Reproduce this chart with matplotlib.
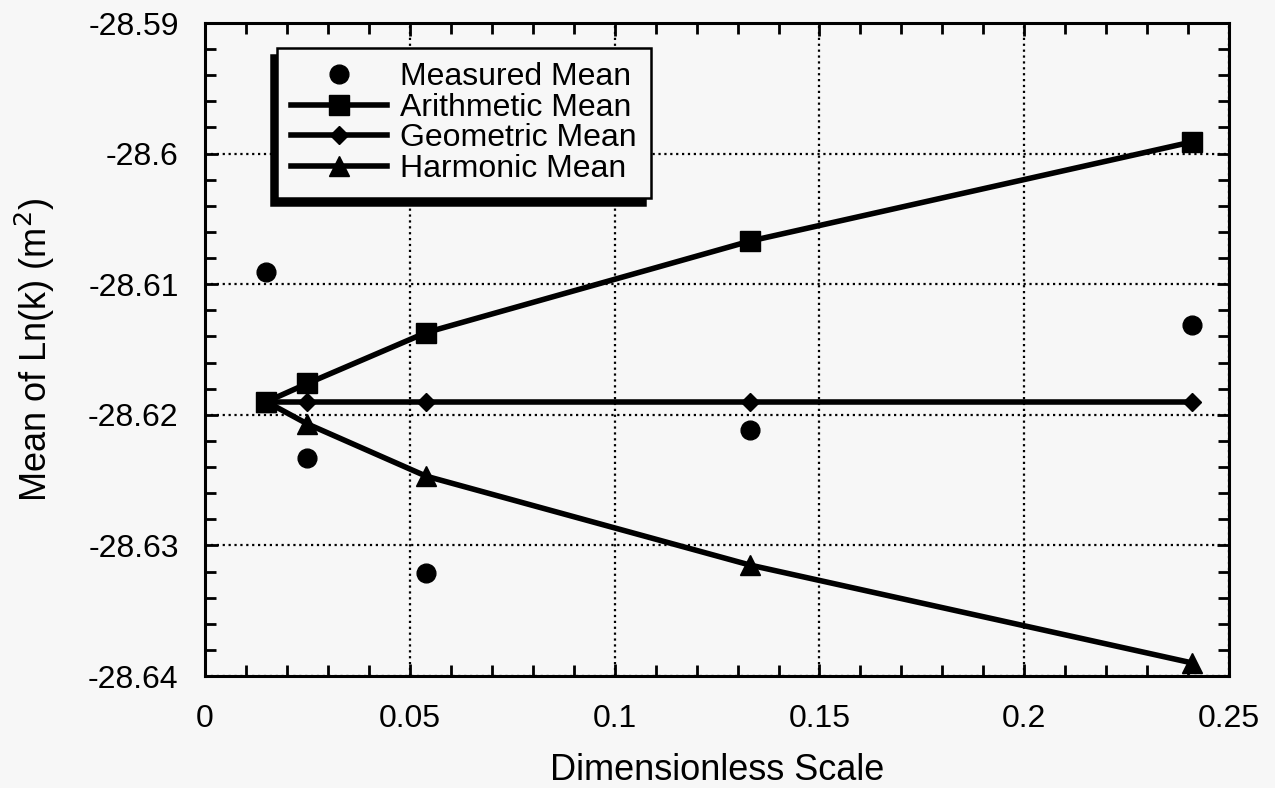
import matplotlib
matplotlib.use('Agg')
import matplotlib.pyplot as plt
from matplotlib.ticker import AutoMinorLocator

# data
scale = [0.015, 0.025, 0.054, 0.133, 0.241]
measured = [-28.6091, -28.6233, -28.6321, -28.6212, -28.6131]
arithmetic = [-28.6190, -28.6176, -28.6137, -28.6067, -28.5991]
geometric = [-28.6190, -28.6190, -28.6190, -28.6190, -28.6190]
harmonic = [-28.6190, -28.6207, -28.6247, -28.6315, -28.6390]

xticks = [0, 0.05, 0.1, 0.15, 0.2, 0.25]
xtick_labels = ['0', '0.05', '0.1', '0.15', '0.2', '0.25']
yticks = [-28.64, -28.63, -28.62, -28.61, -28.60, -28.59]
ytick_labels = ['-28.64', '-28.63', '-28.62', '-28.61', '-28.6', '-28.59']

bg = '#f7f7f7'
plt.rc('font', family=['Liberation Sans', 'DejaVu Sans'])

fig = plt.figure(figsize=(12.75, 7.88), dpi=100, facecolor=bg)
ax = fig.add_axes([0.1608, 0.1421, 0.8032, 0.8287], facecolor=bg)

ax.plot(scale, measured, 'o', color='black', markersize=13.5,
        label='Measured Mean', zorder=4)
ax.plot(scale, arithmetic, '-s', color='black', lw=4, markersize=15,
        label='Arithmetic Mean', zorder=3)
ax.plot(scale, geometric, '-D', color='black', lw=4, markersize=9.5,
        label='Geometric Mean', zorder=3)
ax.plot(scale, harmonic, '-^', color='black', lw=4, markersize=15,
        label='Harmonic Mean', zorder=3)

ax.set_xlim(0, 0.25)
ax.set_ylim(-28.64, -28.59)
ax.set_xticks(xticks, xtick_labels)
ax.set_yticks(yticks, ytick_labels)
ax.xaxis.set_minor_locator(AutoMinorLocator(5))
ax.yaxis.set_minor_locator(AutoMinorLocator(5))

ax.grid(True, which='major', color='black', linestyle=':', linewidth=1.6)
ax.set_axisbelow(True)

for s in ax.spines.values():
    s.set_linewidth(2.2)

ax.tick_params(which='both', direction='in', top=True, right=True,
               width=2, labelsize=23)
ax.tick_params(which='major', length=9)
ax.tick_params(which='minor', length=8)
ax.tick_params(axis='x', pad=20)
ax.tick_params(axis='y', pad=19)

ax.set_xlabel('Dimensionless Scale', fontsize=26, labelpad=14)
ax.set_ylabel('Mean of Ln(k) (m$^2$)', fontsize=26, labelpad=22)

leg = ax.legend(loc='upper left', bbox_to_anchor=(0.070, 0.962),
                borderaxespad=0, fontsize=23, frameon=True, fancybox=False,
                edgecolor='black', facecolor=bg, framealpha=1,
                labelspacing=0.02, handlelength=3.0, handletextpad=0.4,
                borderpad=0.45,
                shadow={'ox': -4, 'oy': -5, 'color': 'black', 'alpha': 1})
leg.get_frame().set_linewidth(1.8)

plt.savefig('out.png', dpi=100, facecolor=bg)
